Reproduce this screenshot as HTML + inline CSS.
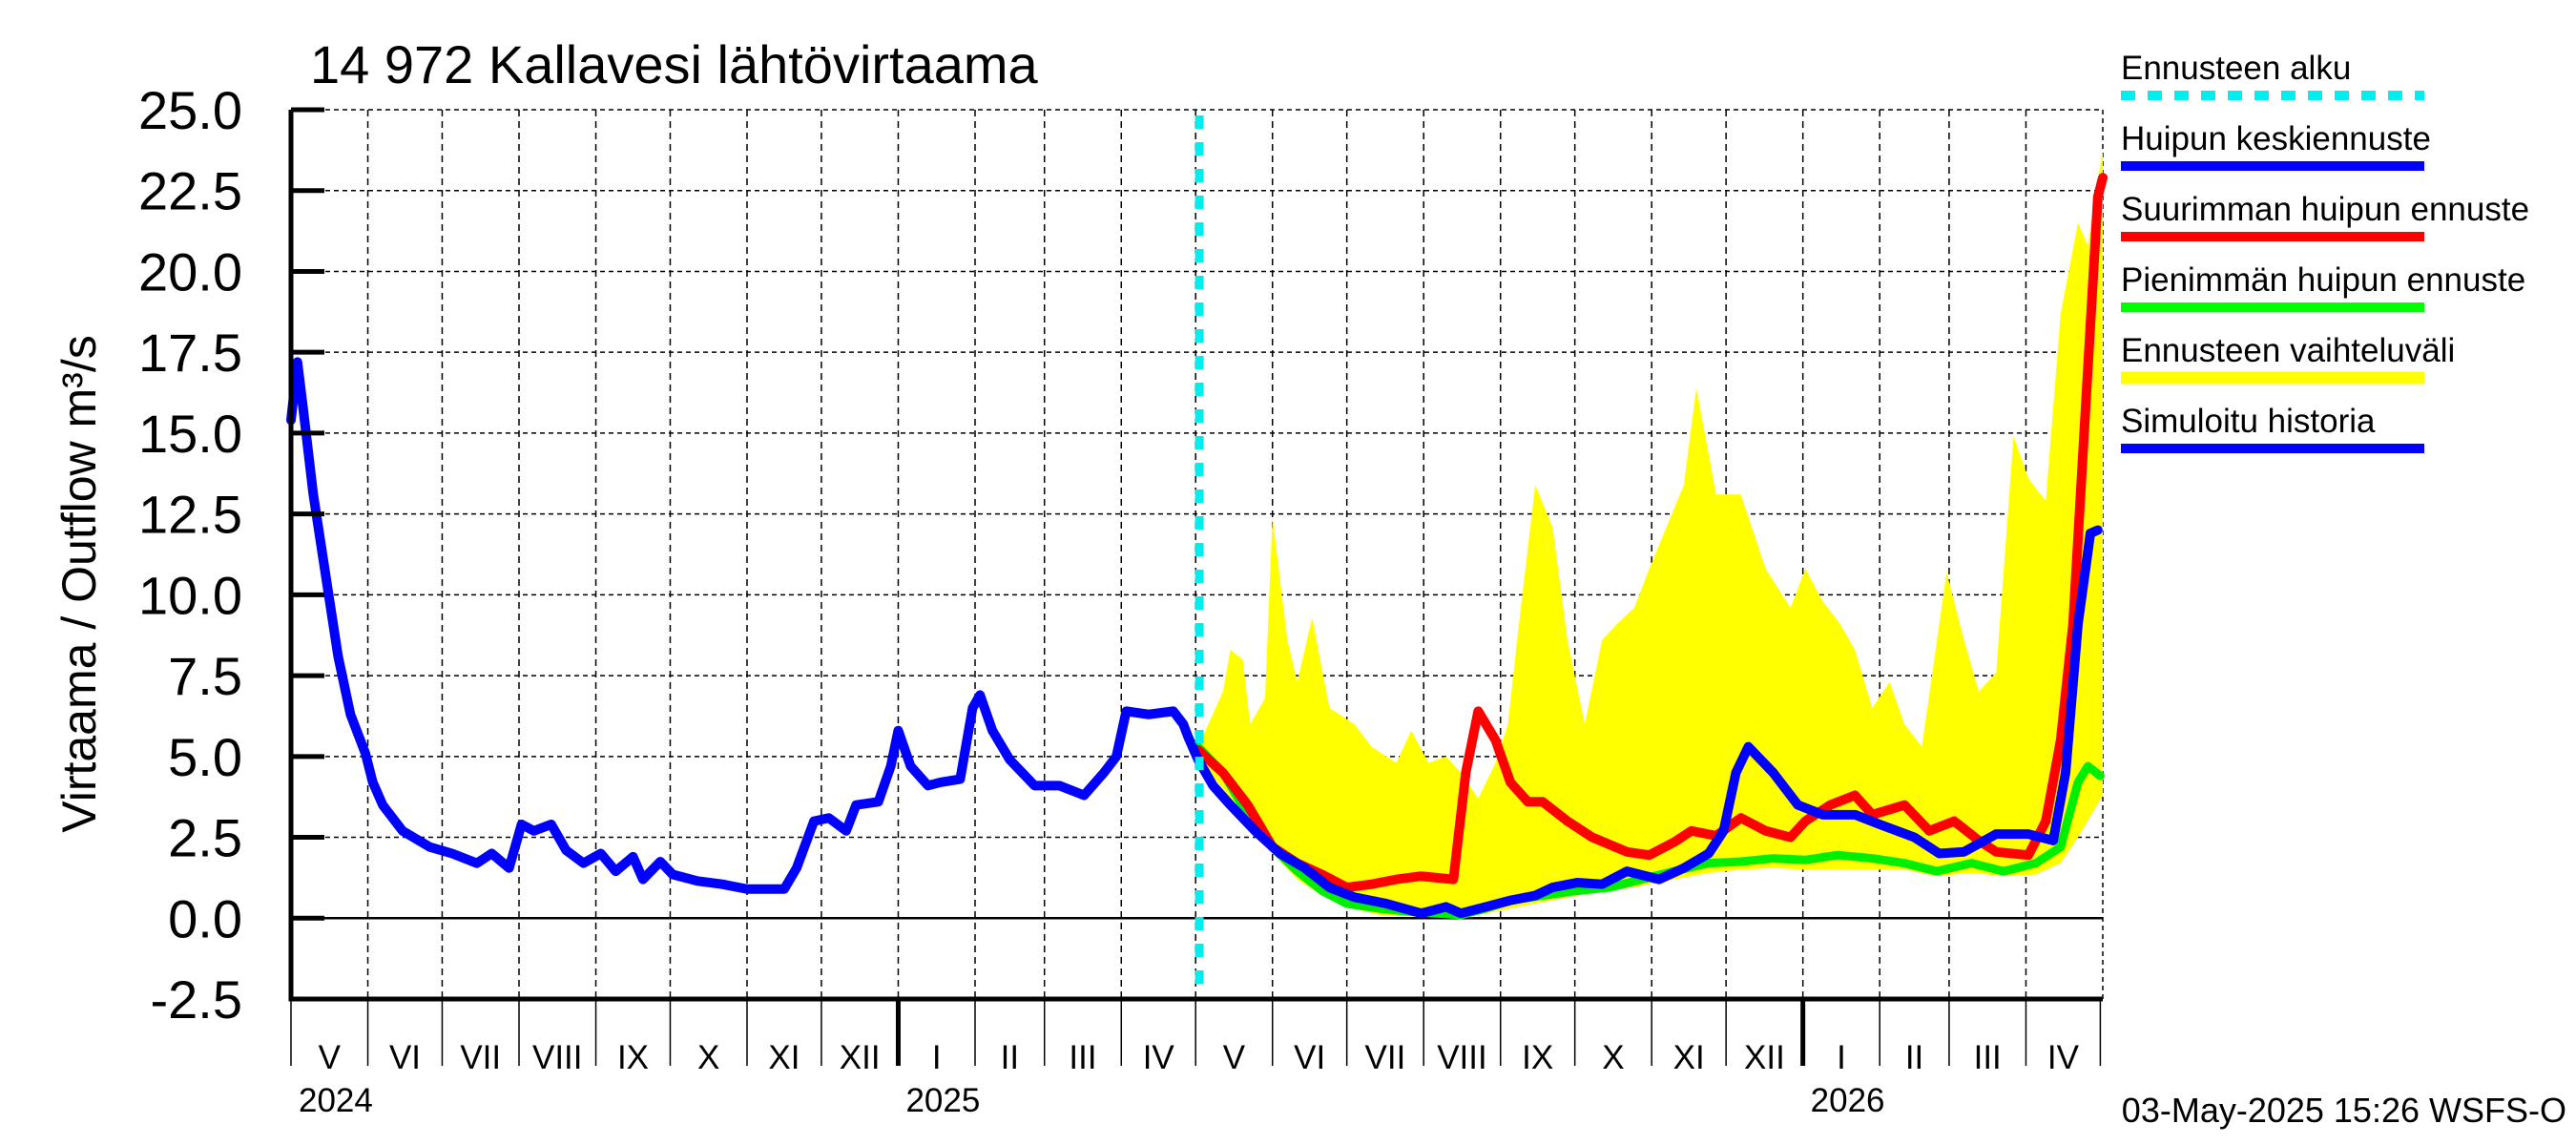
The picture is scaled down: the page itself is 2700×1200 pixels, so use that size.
<!DOCTYPE html>
<html><head><meta charset="utf-8"><style>
html,body{margin:0;padding:0;background:#fff}
svg{display:block}
text{font-family:"Liberation Sans",Arial,sans-serif;fill:#000}
</style></head><body>
<svg id="chart" width="2700" height="1200" viewBox="0 0 2700 1200" xmlns="http://www.w3.org/2000/svg">
<text x="325" y="87" font-size="56">14 972 Kallavesi lähtövirtaama</text>
<text transform="translate(100,612) rotate(-90)" text-anchor="middle" font-size="50">Virtaama / Outflow    m³/s</text>
<g id="grid"></g>
<g id="band"></g>
<g id="series"></g>
<g id="axes"></g>
<g id="legend"></g>
<text x="2690" y="1176" text-anchor="end" font-size="36">03-May-2025 15:26 WSFS-O</text>
</svg>
<script>
// x values: days since 1 May 2024
const yTicks = [-2.5,0,2.5,5,7.5,10,12.5,15,17.5,20,22.5,25];
const monthLabels = ["V","VI","VII","VIII","IX","X","XI","XII","I","II","III","IV","V","VI","VII","VIII","IX","X","XI","XII","I","II","III","IV"];
const monthStarts = [0,31,61,92,123,153,184,214,245,276,304,335,365,396,426,457,488,518,549,579,610,641,669,700,730];
const yearLabels = ["2024","2025","2026"];
const yearStarts = [0,245,610];
const forecastStart = 366.5;

const histDays = [0,2.6,5,9,13,19,24,30,33,37,45,56,65,75,81,88,93,98,105,111,118,125,131,138,142,149,154,164,174,184,199,204,211,217,224,228,237,242,245,250,257,262,270,275,278,283,290,300,310,320,328,333,337,346,356,360,362,366];
const histVals = [15.4,17.2,15.7,13.1,11.1,8.1,6.3,5.1,4.2,3.5,2.7,2.2,2.0,1.7,2.0,1.55,2.9,2.7,2.9,2.1,1.7,2.0,1.45,1.9,1.2,1.75,1.35,1.15,1.05,0.9,0.9,1.55,3.0,3.1,2.7,3.5,3.6,4.7,5.8,4.7,4.1,4.2,4.3,6.5,6.9,5.8,4.9,4.1,4.1,3.8,4.5,5.0,6.4,6.3,6.4,6.0,5.6,4.9];

const medDays = [366,372,379,389,399,409,419,429,442,456,466,472,482,492,502,509,519,529,539,552,562,572,578,583,588,598,608,618,631,641,655,665,675,688,701,711,716,721,726,729];
const medVals = [4.9,4.1,3.5,2.7,2.0,1.55,0.95,0.65,0.45,0.15,0.35,0.15,0.35,0.55,0.7,0.95,1.1,1.05,1.45,1.2,1.55,2.0,2.7,4.5,5.3,4.5,3.5,3.2,3.2,2.9,2.5,2.0,2.05,2.6,2.6,2.4,4.5,9.1,11.9,12.0];

const maxDays = [366,376,386,396,406,416,426,436,446,456,469,474,479,486,492,499,505,515,525,539,548,558,565,575,585,595,605,611,621,631,638,651,661,671,681,688,701,708,714,719,724,729,731];
const maxVals = [5.2,4.5,3.5,2.2,1.7,1.35,0.95,1.05,1.2,1.3,1.2,4.5,6.4,5.5,4.2,3.6,3.6,3.0,2.5,2.05,1.95,2.35,2.7,2.55,3.1,2.7,2.5,3.0,3.5,3.8,3.2,3.5,2.7,3.0,2.4,2.05,1.95,3.0,5.5,9.1,15.7,22.3,22.9];

const minDays = [366,376,386,396,406,416,426,439,452,462,472,482,492,505,519,532,545,558,572,585,598,611,624,638,651,664,678,691,704,714,721,725,730];
const minVals = [5.3,4.5,3.2,2.2,1.45,0.85,0.45,0.3,0.2,0.15,0.1,0.3,0.55,0.7,0.85,0.95,1.2,1.45,1.7,1.75,1.85,1.8,1.95,1.85,1.7,1.45,1.7,1.45,1.7,2.2,4.2,4.7,4.4];

const upDays = [366,376,379,384,387,393,396,402,406,412,419,429,436,446,452,459,466,472,479,486,491,495,502,509,515,522,529,535,542,548,555,562,567,575,585,595,605,611,618,625,631,638,645,651,658,663,668,675,681,688,695,701,708,714,721,725,731];
const upVals = [5.3,7.0,8.3,8.0,6.0,6.8,12.4,8.6,7.3,9.3,6.5,6.0,5.3,4.8,5.8,4.8,5.0,4.5,3.7,4.8,6.0,8.8,13.4,12.1,8.6,6.0,8.6,9.1,9.6,10.8,12.1,13.4,16.4,13.1,13.1,10.8,9.6,10.8,9.8,9.1,8.3,6.5,7.3,6.0,5.3,8.0,10.7,8.6,7.0,7.6,14.9,13.6,12.9,18.7,21.5,20.8,23.8];
const loDays = [366,376,386,396,406,416,426,439,452,466,479,492,505,519,532,545,558,572,585,598,611,624,638,651,664,678,691,704,714,721,731];
const loVals = [4.9,4.0,3.0,2.0,1.2,0.7,0.35,0.1,0.05,0.05,0.1,0.3,0.5,0.7,0.85,1.0,1.2,1.4,1.5,1.55,1.5,1.5,1.5,1.5,1.3,1.4,1.3,1.35,1.7,2.5,3.8];

const X0=305, X1=2204, DMAX=731, YT=115, YB=1047, VMIN=-2.5, VMAX=25;
const xs = d => X0 + (X1-X0)*d/DMAX;
const ys = v => YB - (YB-YT)*(v-VMIN)/(VMAX-VMIN);
const NS="http://www.w3.org/2000/svg";
function mk(tag, parent, attrs){const e=document.createElementNS(NS,tag);for(const k in attrs)e.setAttribute(k,attrs[k]);parent.appendChild(e);return e;}
const grid=document.getElementById('grid'), axes=document.getElementById('axes'), band=document.getElementById('band'), series=document.getElementById('series'), legend=document.getElementById('legend');

yTicks.forEach(v=>{
  const y=ys(v);
  const l=mk('line',grid,{x1:X0,x2:X1,y1:y,y2:y,stroke:'#000','stroke-width':v===0?2.5:1.5,'stroke-dasharray':v===0?'none':'5,4'});
  
  
  const t=mk('line',axes,{x1:X0,x2:X0+35,y1:y,y2:y,stroke:'#000','stroke-width':5});
  
  
  const tx=mk('text',axes,{x:254,y:y+20,'text-anchor':'end','font-size':56});
  tx.textContent=v.toFixed(1);
  
  
});
monthStarts.forEach((d,i)=>{
  const x=xs(d);
  if(i>0&&i<monthStarts.length-1){
    const g=mk('line',grid,{x1:x,x2:x,y1:YT,y2:YB,stroke:'#000','stroke-width':1.5,'stroke-dasharray':'7,5'});
    
    
  }
  const isYear=yearStarts.includes(d)&&d>0;
  const t=mk('line',axes,{x1:x,x2:x,y1:YB,y2:1117,stroke:'#000','stroke-width':isYear?5:1.5});
  
  
  if(i<monthLabels.length){
    const lb=mk('text',axes,{x:(xs(d)+xs(monthStarts[i+1]))/2,y:1120,'text-anchor':'middle','font-size':35});
    lb.textContent=monthLabels[i];
    
    
  }
});
yearStarts.forEach((d,i)=>{
  const t=mk('text',axes,{x:xs(d)+8,y:1165,'font-size':35});
  t.textContent=yearLabels[i];
  
  
});
const ax=mk('path',axes,{d:`M${X0},${YT} L${X0},${YB} L${X1},${YB}`,fill:'none',stroke:'#000','stroke-width':5});


const rb=mk('line',grid,{x1:X1,x2:X1,y1:YT,y2:YB,stroke:'#000','stroke-width':1.5,'stroke-dasharray':'5,4'});



let pts=upDays.map((d,i)=>xs(d)+','+ys(upVals[i]));
for(let i=loDays.length-1;i>=0;i--)pts.push(xs(loDays[i])+','+ys(loVals[i]));
const poly=mk('polygon',band,{points:pts.join(' '),fill:'#ffff00'});



function line(days,vals,color,w,name){
  const p=mk('polyline',series,{points:days.map((d,i)=>xs(d)+','+ys(vals[i])).join(' '),fill:'none',stroke:color,'stroke-width':w,'stroke-linejoin':'round','stroke-linecap':'round'});
  
  
}
line(minDays,minVals,'#00ee00',9,'min-peak-forecast-line');
line(maxDays,maxVals,'#ff0000',10,'max-peak-forecast-line');
line(medDays,medVals,'#0000ff',10,'median-peak-forecast-line');
line(histDays,histVals,'#0000ff',10,'simulated-history-line');
const fl=mk('line',series,{x1:xs(forecastStart),x2:xs(forecastStart),y1:YT+6,y2:YB,stroke:'#00eeee','stroke-width':9,'stroke-dasharray':'14,14'});



const legItems=[["Ennusteen alku","#00eeee",true],["Huipun keskiennuste","#0000ff"],["Suurimman huipun ennuste","#ff0000"],["Pienimmän huipun ennuste","#00ff00"],["Ennusteen vaihteluväli","#ffff00"],["Simuloitu historia","#0000ff"]];
legItems.forEach((it,i)=>{
  const y=100+i*74;
  const t=mk('text',legend,{x:2223,y:y-17,'font-size':35});
  t.textContent=it[0];
  
  
  const l=mk('line',legend,{x1:2223,x2:2541,y1:y,y2:y,stroke:it[1],'stroke-width':it[1]==="#ffff00"?13:10,'stroke-dasharray':it[2]?'15,13':'none'});
  
  
});
</script>
</body></html>
